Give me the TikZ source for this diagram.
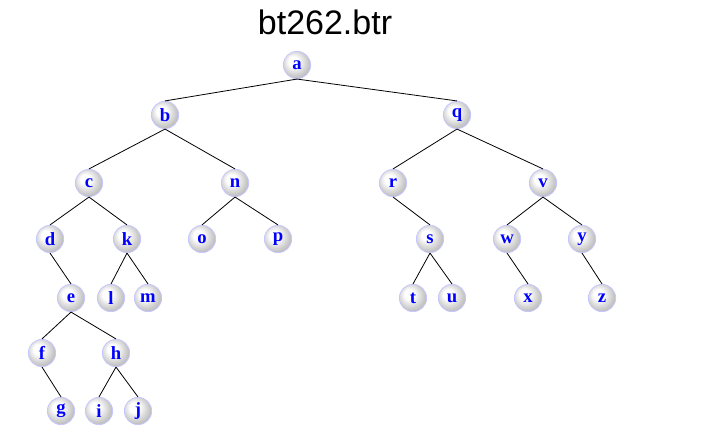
\documentclass[tikz,border=0pt]{standalone}
\usepackage{fontspec}
\setmainfont{Liberation Serif}
\newfontfamily\titlefont{Liberation Sans}
\usetikzlibrary{shapes.geometric,positioning}

\pgfdeclareradialshading{lightball}{\pgfqpoint{-8bp}{8bp}}{%
  color(0bp)=(white); color(9bp)=(white); color(19bp)=(gray!28);
  color(27bp)=(gray!50); color(50bp)=(gray!50)}

\begin{document}
\begin{tikzpicture}[
  x=0.75pt, y=-0.75pt,
  bnode/.style={circle, draw=blue!22, line width=0.6pt, shading=lightball,
                minimum size=20.5pt, inner sep=0pt,
                font=\bfseries\fontsize{14}{14}\selectfont, text=blue},
  edge/.style={draw=black, line width=0.6pt},
  title/.style={font=\titlefont\fontsize{25.5}{28}\selectfont}
]
  \useasboundingbox (0,0) rectangle (717,448);
  \node[title] (ttl) at (325,22) {bt262.btr};

  \node[bnode] (a) at (297,65)  {a};
  \node[bnode] (b) at (165,115) {b};
  \node[bnode] (q) at (457,115) {q};
  \node[bnode] (c) at (89,183)  {c};
  \node[bnode] (n) at (235,183) {n};
  \node[bnode] (r) at (393,183) {r};
  \node[bnode] (v) at (543,183) {v};
  \node[bnode] (d) at (50,239)  {d};
  \node[bnode] (k) at (127,239) {k};
  \node[bnode] (o) at (202,239) {o};
  \node[bnode] (p) at (278,239) {p};
  \node[bnode] (s) at (430,239) {s};
  \node[bnode] (w) at (507,239) {w};
  \node[bnode] (y) at (582,239) {y};
  \node[bnode] (e) at (71,298)  {e};
  \node[bnode] (l) at (111,298) {l};
  \node[bnode] (m) at (148,298) {m};
  \node[bnode] (t) at (413,298) {t};
  \node[bnode] (u) at (452,298) {u};
  \node[bnode] (x) at (528,298) {x};
  \node[bnode] (z) at (602,298) {z};
  \node[bnode] (f) at (42,353)  {f};
  \node[bnode] (h) at (116,353) {h};
  \node[bnode] (g) at (61,411)  {g};
  \node[bnode] (i) at (99,411)  {i};
  \node[bnode] (j) at (138,411) {j};

  % Edges
  \foreach \p/\c in {a/b,a/q,b/c,b/n,q/r,q/v,c/d,c/k,n/o,n/p,r/s,v/w,v/y,
                     d/e,k/l,k/m,s/t,s/u,w/x,y/z,e/f,e/h,f/g,h/i,h/j}
    \draw[edge] (\p.south) -- (\c.north);
\end{tikzpicture}
\end{document}
